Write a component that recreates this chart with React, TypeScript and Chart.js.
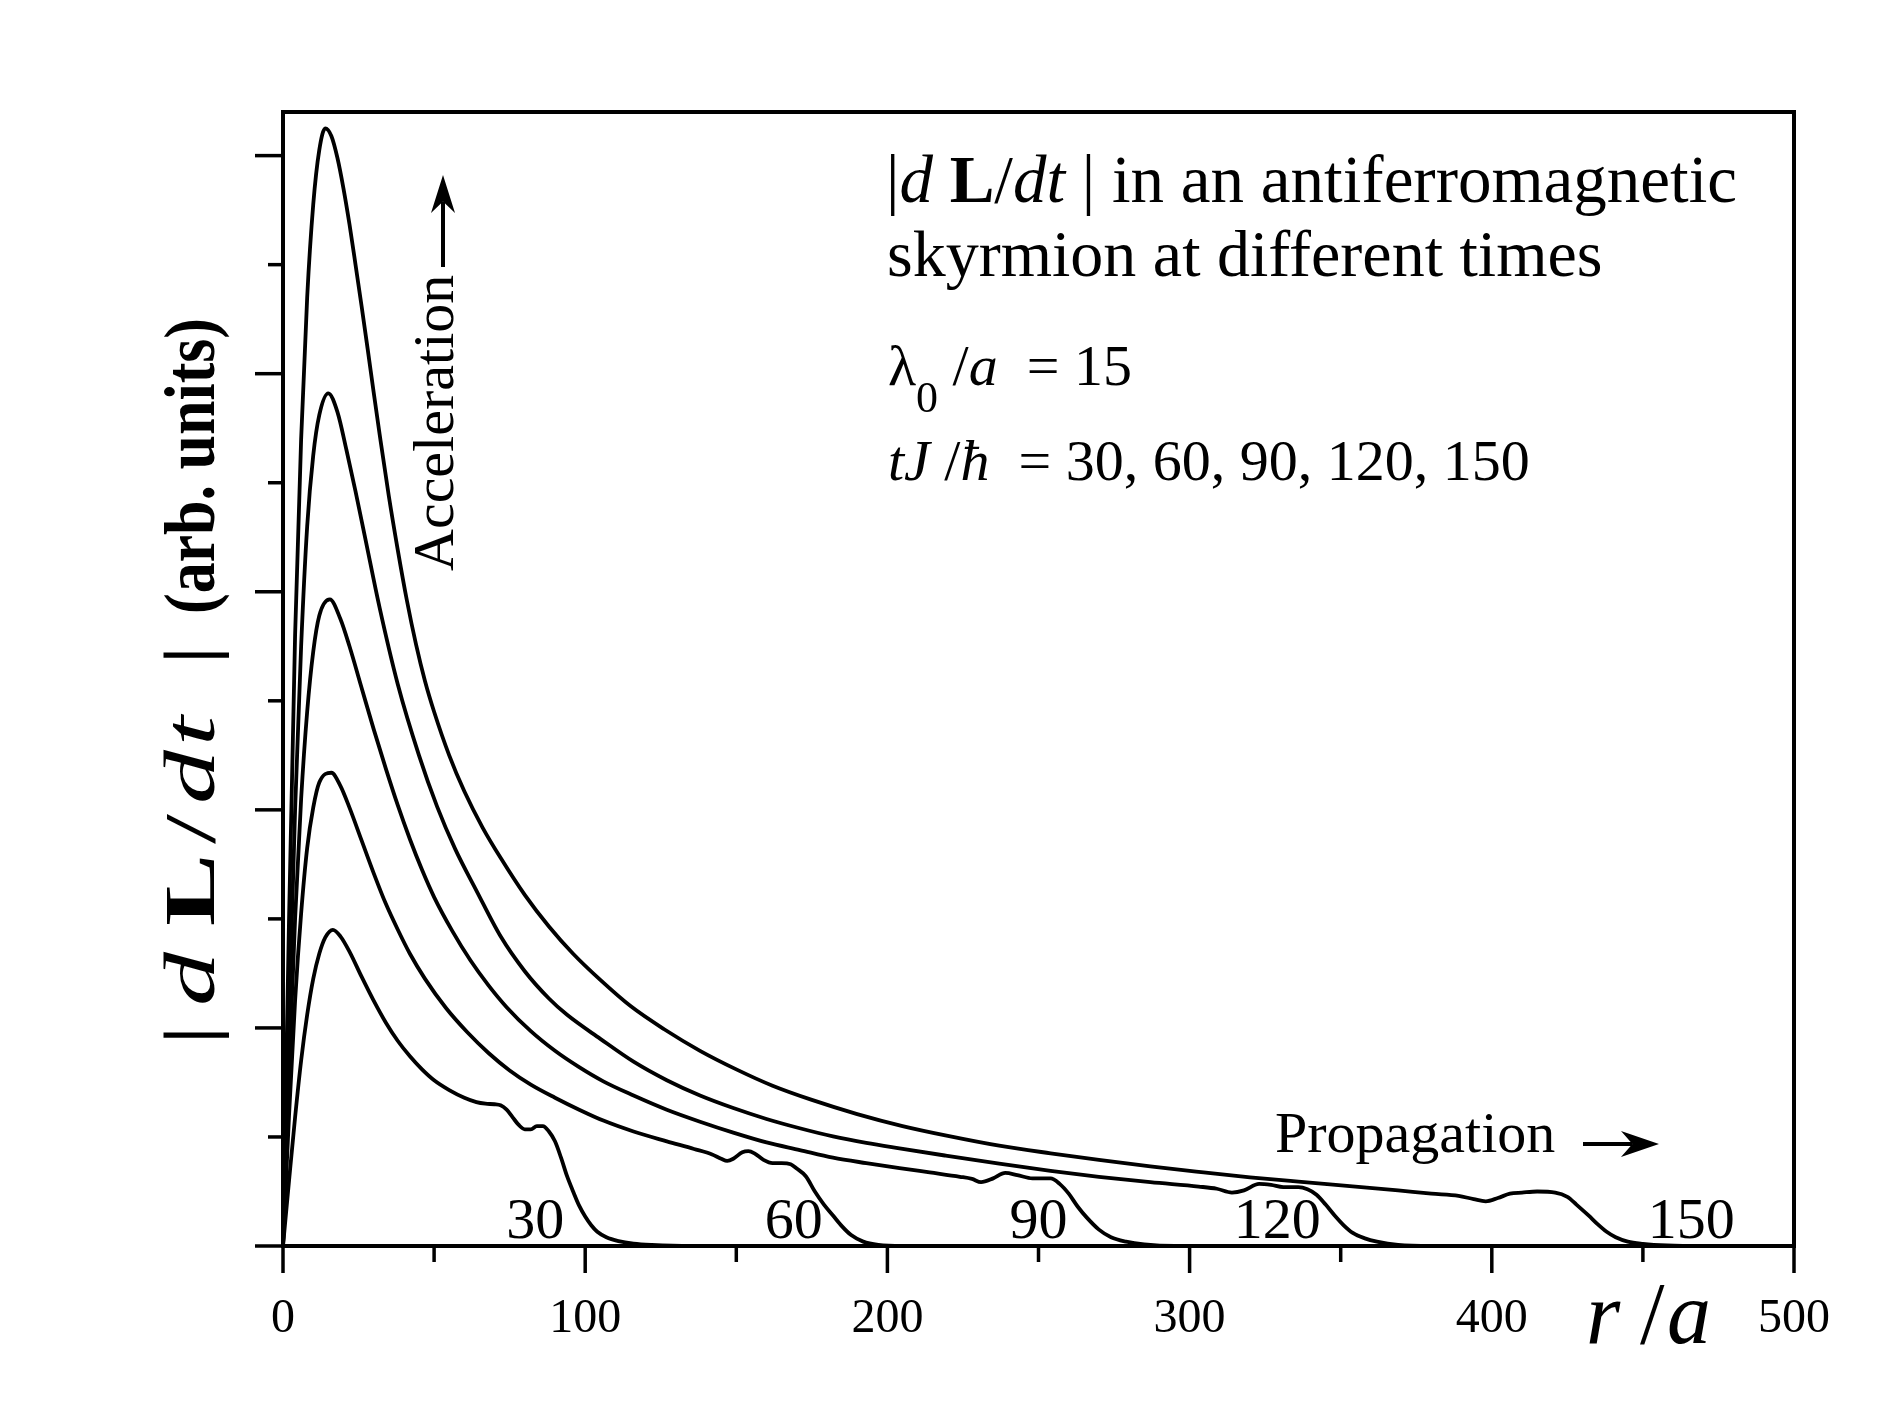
import React, { useEffect, useRef } from 'react';
import { Chart, registerables } from 'chart.js';

Chart.register(...registerables);

const SERIF = '"Liberation Serif", "Times New Roman", Times, serif';

// |dL/dt| profiles, r/a on x, arbitrary units on y (one unit = one y tick)
const r30 = [0, 2, 4, 6, 8, 10, 12, 14, 16.5, 19, 22, 26, 30, 34, 38, 42, 46, 50, 55, 60, 64, 67, 70, 72, 74, 76, 78, 80, 82, 84, 86, 88, 90, 92, 94, 96, 98, 100, 102, 104, 107, 111, 116, 122, 135, 500];
const y30 = [0, 0.6, 1.18, 1.7, 2.12, 2.45, 2.68, 2.83, 2.9, 2.84, 2.7, 2.47, 2.25, 2.05, 1.88, 1.74, 1.62, 1.52, 1.43, 1.36, 1.32, 1.305, 1.3, 1.29, 1.25, 1.18, 1.11, 1.07, 1.07, 1.1, 1.1, 1.05, 0.96, 0.81, 0.64, 0.5, 0.37, 0.27, 0.19, 0.13, 0.08, 0.045, 0.022, 0.01, 0, 0];

const r60 = [0, 2, 4, 6, 8, 10, 12, 16, 19, 22, 26, 30, 34, 38, 42, 47, 54, 61, 68, 75, 82, 90, 98, 106, 116, 127, 136, 142, 145, 147, 149, 152, 154, 156, 159, 162, 165, 168, 170, 173, 176, 179, 182, 185, 188, 192, 197, 205, 500];
const y60 = [0, 1.2, 2.25, 3.05, 3.65, 4.02, 4.25, 4.34, 4.22, 4.02, 3.72, 3.42, 3.14, 2.9, 2.68, 2.45, 2.18, 1.96, 1.77, 1.61, 1.48, 1.36, 1.25, 1.15, 1.05, 0.96, 0.89, 0.84, 0.8, 0.78, 0.8, 0.86, 0.87, 0.85, 0.79, 0.76, 0.76, 0.75, 0.71, 0.64, 0.5, 0.38, 0.28, 0.18, 0.1, 0.04, 0.01, 0, 0];

const r90 = [0, 2, 4, 6, 8, 10, 12, 15.5, 19, 22, 26, 30, 34, 38, 42, 46, 50, 56, 62, 68, 74, 82, 90, 98, 106, 116, 127, 138, 149, 160, 171, 182, 193, 204, 214, 224, 228, 231, 235, 239, 243, 248, 254, 257, 260, 263, 266, 270, 274, 279, 285, 295, 500];
const y90 = [0, 1.6, 3.0, 4.1, 4.9, 5.45, 5.78, 5.93, 5.75, 5.5, 5.12, 4.74, 4.38, 4.04, 3.73, 3.45, 3.2, 2.89, 2.62, 2.39, 2.19, 1.97, 1.79, 1.64, 1.51, 1.38, 1.25, 1.14, 1.04, 0.95, 0.88, 0.81, 0.76, 0.715, 0.675, 0.635, 0.615, 0.585, 0.62, 0.67, 0.65, 0.62, 0.62, 0.57, 0.48, 0.36, 0.26, 0.15, 0.08, 0.04, 0.015, 0, 0];

const r120 = [0, 2, 4, 6, 8, 10, 12, 15, 18, 21, 24, 27, 32, 38, 45, 51, 57, 64, 72, 80, 88, 94, 105, 116, 127, 138, 149, 160, 171, 182, 193, 204, 219, 237, 254, 270, 287, 303, 309, 314, 318, 323, 327, 331, 336, 339, 342, 345, 348, 351, 354, 358, 362, 369, 380, 500];
const y120 = [0, 2.1, 4.0, 5.5, 6.6, 7.25, 7.62, 7.82, 7.65, 7.3, 6.92, 6.52, 5.85, 5.15, 4.5, 4.03, 3.64, 3.26, 2.84, 2.52, 2.27, 2.12, 1.9, 1.69, 1.52, 1.38, 1.265, 1.165, 1.08, 1.005, 0.945, 0.895, 0.83, 0.755, 0.69, 0.635, 0.585, 0.545, 0.525, 0.49, 0.51, 0.57, 0.56, 0.54, 0.54, 0.52, 0.47, 0.38, 0.28, 0.19, 0.12, 0.07, 0.04, 0.01, 0, 0];

const r150 = [0, 2, 4, 6, 8, 10, 12, 14, 16, 18, 20, 22, 24, 26, 28, 30, 32, 35, 38, 41, 44, 47, 50, 55, 60, 66, 72, 80, 88, 96, 105, 115, 126, 138, 150, 162, 175, 190, 205, 220, 237, 254, 270, 287, 303, 320, 336, 353, 369, 380, 389, 394, 398, 402, 406, 410, 415, 421, 425, 428, 432, 435, 438, 441, 445, 450, 458, 470, 500];
const y150 = [0, 3.0, 5.6, 7.4, 8.7, 9.55, 10.05, 10.25, 10.18, 9.98, 9.7, 9.37, 9.0, 8.62, 8.23, 7.83, 7.44, 6.88, 6.38, 5.92, 5.52, 5.18, 4.9, 4.5, 4.17, 3.84, 3.56, 3.22, 2.93, 2.68, 2.44, 2.2, 1.99, 1.79, 1.62, 1.47, 1.34, 1.21, 1.1, 1.01, 0.92, 0.85, 0.79, 0.73, 0.68, 0.63, 0.59, 0.55, 0.51, 0.48, 0.46, 0.43, 0.41, 0.44, 0.48, 0.49, 0.5, 0.49, 0.45, 0.38, 0.28, 0.2, 0.13, 0.08, 0.04, 0.02, 0.005, 0, 0];

const times = [30, 60, 90, 120, 150];
const radii = [r30, r60, r90, r120, r150];
const profiles = [y30, y60, y90, y120, y150];
// where the tJ/ħ number is written under each front (r/a)
const timeLabelAt = [83.5, 169, 250, 329, 466];

const xTicks = [0, 50, 100, 150, 200, 250, 300, 350, 400, 450, 500];
const xTickLabels = ['0', '', '100', '', '200', '', '300', '', '400', '', '500'];
const yTicks = [0, 1, 2, 3, 4, 5, 6, 7, 8, 9, 10];

type Seg = { t: string; st?: string; size?: number; dy?: number };

function drawRich(ctx: CanvasRenderingContext2D, segs: Seg[], x: number, y: number, size: number) {
  let cx = x;
  for (const s of segs) {
    ctx.font = `${s.st ?? ''} ${s.size ?? size}px ${SERIF}`;
    ctx.fillText(s.t, cx, y + (s.dy ?? 0));
    cx += ctx.measureText(s.t).width;
  }
  return cx - x;
}

// glyph placed at an offset along the baseline, stretched by sx along the text
function glyph(ctx: CanvasRenderingContext2D, t: string, at: number, font: string, sx: number) {
  ctx.save();
  ctx.translate(at, 0);
  ctx.scale(sx, 1);
  ctx.font = font;
  ctx.fillText(t, 0, 0);
  ctx.restore();
}

function arrow(ctx: CanvasRenderingContext2D, x0: number, y0: number, x1: number, y1: number, len: number, half: number) {
  const ang = Math.atan2(y1 - y0, x1 - x0);
  const total = Math.hypot(x1 - x0, y1 - y0);
  ctx.save();
  ctx.translate(x1, y1);
  ctx.rotate(ang);
  ctx.lineWidth = 4;
  ctx.beginPath();
  ctx.moveTo(-total, 0);
  ctx.lineTo(-len * 0.7, 0);
  ctx.stroke();
  ctx.beginPath();
  ctx.moveTo(0, 0);
  ctx.lineTo(-len, -half);
  ctx.lineTo(-len * 0.7, 0);
  ctx.lineTo(-len, half);
  ctx.closePath();
  ctx.fill();
  ctx.restore();
}

const decor = {
  id: 'decor',
  afterDraw(chart: any) {
    const { ctx, chartArea: a } = chart;
    const x = chart.scales.x;
    const y = chart.scales.y;
    ctx.save();
    ctx.strokeStyle = '#000';
    ctx.fillStyle = '#000';

    // frame
    ctx.lineWidth = 4;
    ctx.strokeRect(a.left, a.top, a.right - a.left, a.bottom - a.top);

    // ticks
    ctx.lineWidth = 3.5;
    xTicks.forEach((v, i) => {
      const px = x.getPixelForValue(v);
      const len = xTickLabels[i] ? 27 : 16;
      ctx.beginPath();
      ctx.moveTo(px, a.bottom);
      ctx.lineTo(px, a.bottom + len);
      ctx.stroke();
    });
    yTicks.forEach((v) => {
      const py = y.getPixelForValue(v);
      const len = v % 2 === 0 ? 28 : 15;
      ctx.beginPath();
      ctx.moveTo(a.left - len, py);
      ctx.lineTo(a.left, py);
      ctx.stroke();
    });

    // x tick labels
    ctx.textAlign = 'center';
    ctx.textBaseline = 'alphabetic';
    ctx.font = `48px ${SERIF}`;
    xTicks.forEach((v, i) => {
      if (xTickLabels[i]) ctx.fillText(xTickLabels[i], x.getPixelForValue(v), a.bottom + 86);
    });

    // time labels under each front
    ctx.font = `58px ${SERIF}`;
    times.forEach((t, i) => {
      ctx.fillText(String(t), x.getPixelForValue(timeLabelAt[i]), a.bottom - 8);
    });

    ctx.textAlign = 'left';
    // x axis title
    ctx.font = `italic 88px ${SERIF}`;
    ctx.fillText('r', 1586, 1343);
    ctx.font = `88px ${SERIF}`;
    ctx.fillText('/', 1640, 1343);
    ctx.font = `italic 88px ${SERIF}`;
    ctx.fillText('a', 1667, 1343);

    // y axis title, reading upwards
    ctx.save();
    ctx.translate(214, 1046);
    ctx.rotate(-Math.PI / 2);
    const reg = `72px ${SERIF}`;
    const ita = `italic 72px ${SERIF}`;
    const bld = `bold 72px ${SERIF}`;
    glyph(ctx, '|', 0, reg, 1.5);
    glyph(ctx, 'd', 40, ita, 1.5);
    glyph(ctx, 'L', 120, bld, 1.5);
    glyph(ctx, '/', 202, reg, 1.5);
    glyph(ctx, 'd', 242, ita, 1.5);
    glyph(ctx, 't', 300, ita, 1.5);
    glyph(ctx, '|', 380, reg, 1.5);
    ctx.font = bld;
    const aw = ctx.measureText('(arb. units)').width;
    glyph(ctx, '(arb. units)', 432, bld, 296 / aw);
    ctx.restore();

    // caption
    drawRich(ctx, [
      { t: '|' }, { t: 'd', st: 'italic' }, { t: ' ' }, { t: 'L', st: 'bold' }, { t: '/' },
      { t: 'dt', st: 'italic' }, { t: ' | in an antiferromagnetic' },
    ], 886, 202, 67);
    drawRich(ctx, [{ t: 'skyrmion at different times' }], 887, 276, 66);
    drawRich(ctx, [
      { t: 'λ' }, { t: '0', size: 44, dy: 27 }, { t: ' /' }, { t: 'a', st: 'italic' }, { t: '  = 15' },
    ], 888, 385, 58);
    drawRich(ctx, [
      { t: 'tJ', st: 'italic' }, { t: ' /' }, { t: 'ħ', st: 'italic' }, { t: '  = 30, 60, 90, 120, 150' },
    ], 888, 480, 58);

    // Acceleration
    ctx.save();
    ctx.translate(453, 571);
    ctx.rotate(-Math.PI / 2);
    ctx.font = `58px ${SERIF}`;
    ctx.fillText('Acceleration', 0, 0);
    ctx.restore();
    arrow(ctx, 443, 267, 443, 175, 38, 12);

    // Propagation
    ctx.font = `58px ${SERIF}`;
    ctx.fillText('Propagation', 1275, 1152);
    arrow(ctx, 1583, 1144, 1659, 1144, 38, 13);

    ctx.restore();
  },
};

const App: React.FC = () => {
  const canvasRef = useRef<HTMLCanvasElement | null>(null);

  useEffect(() => {
    const ctx = canvasRef.current?.getContext('2d');
    if (!ctx) return;

    const chart = new Chart(ctx, {
      type: 'line',
      data: {
        datasets: times.map((t, i) => ({
          label: `tJ/ħ = ${t}`,
          data: radii[i].map((r, j) => ({ x: r, y: profiles[i][j] })),
          borderColor: '#000',
          borderWidth: 3.8,
          pointRadius: 0,
          fill: false,
          cubicInterpolationMode: 'monotone' as const,
        })),
      },
      options: {
        animation: false,
        responsive: false,
        maintainAspectRatio: false,
        layout: { padding: { left: 283, top: 112, right: 95, bottom: 171 } },
        plugins: { legend: { display: false }, tooltip: { enabled: false } },
        scales: {
          x: { type: 'linear', min: 0, max: 500, display: false },
          y: { type: 'linear', min: 0, max: 10.4, display: false },
        },
      },
      plugins: [decor],
    });

    return () => {
      chart.destroy();
    };
  }, []);

  return (
    <div style={{ position: 'absolute', left: 0, top: 0, width: 1889, height: 1417, background: '#fff' }}>
      <canvas ref={canvasRef} width={1889} height={1417} style={{ display: 'block' }}></canvas>
    </div>
  );
};

export default App;
